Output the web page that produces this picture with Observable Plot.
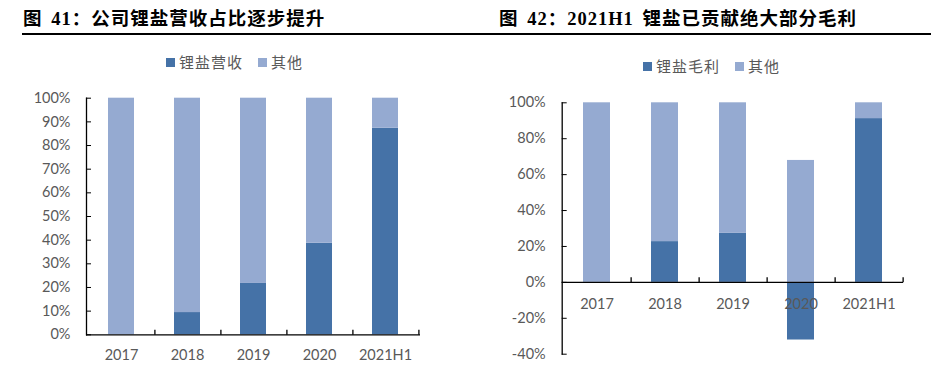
<!DOCTYPE html>
<html><head><meta charset="utf-8">
<script src="https://cdn.jsdelivr.net/npm/d3@7"></script>
<script src="https://cdn.jsdelivr.net/npm/@observablehq/plot@0.6"></script>
<style>
body{margin:0;background:#fff;}
#root{position:relative;width:931px;height:375px;overflow:hidden;background:#fff;font-family:"Noto Sans CJK SC",sans-serif;}
.title{position:absolute;top:6px;font-family:"Liberation Serif","Noto Sans CJK SC",serif;font-weight:bold;font-size:18.5px;letter-spacing:1px;word-spacing:3px;color:#000;white-space:nowrap;line-height:26px;}
.rule{position:absolute;top:33px;left:22px;width:909px;height:2px;background:#000;}
.legend{position:absolute;font-size:15px;letter-spacing:1px;color:#595959;white-space:nowrap;display:flex;align-items:center;line-height:18px;}
.legend .item{display:flex;align-items:center;margin-right:15px;}
.sw{display:inline-block;width:9px;height:9px;margin-right:4px;}
.chart{position:absolute;}
</style></head>
<body><div id="root"></div>
<script>
const categories = ["2017", "2018", "2019", "2020", "2021H1"];
const leftTitle = "图 41：公司锂盐营收占比逐步提升";
const rightTitle = "图 42：2021H1 锂盐已贡献绝大部分毛利";
const leftSeries = ["锂盐营收", "其他"];
const leftLithium = [0, 0.094, 0.217, 0.387, 0.873];
const leftOther = [1, 0.906, 0.783, 0.613, 0.127];
const rightSeries = ["锂盐毛利", "其他"];
const rightLithium = [0, 0.227, 0.273, -0.321, 0.912];
const rightOther = [1, 0.773, 0.727, 0.679, 0.088];
const leftTicks = [0, 0.1, 0.2, 0.3, 0.4, 0.5, 0.6, 0.7, 0.8, 0.9, 1];
const rightTicks = [-0.4, -0.2, 0, 0.2, 0.4, 0.6, 0.8, 1];
const colors = ["#4572A7", "#95AAD1"];

const root = document.getElementById("root");
function el(tag, cls, style, text) {
  const e = document.createElement(tag);
  if (cls) e.className = cls;
  Object.assign(e.style, style || {});
  if (text != null) e.textContent = text;
  return e;
}
root.appendChild(el("div", "title", {left: "23px"}, leftTitle));
root.appendChild(el("div", "title", {left: "499px"}, rightTitle));
root.appendChild(el("div", "rule"));

function legend(series, left, top) {
  const lg = el("div", "legend", {left: left + "px", top: top + "px"});
  series.forEach((s, i) => {
    const it = el("span", "item");
    it.appendChild(el("span", "sw", {background: colors[i]}));
    it.appendChild(el("span", null, {}, s));
    lg.appendChild(it);
  });
  root.appendChild(lg);
}
legend(leftSeries, 166, 53);
legend(rightSeries, 643, 57);

const fmt = d => `${Math.round(d * 100)}%`;

function chart({series, a, b, ticks, domain, width, height, ml, mr, mt, mb, labelPad, yPad}) {
  const rows = [];
  categories.forEach((c, i) => rows.push({cat: c, series: series[0], value: a[i]}));
  categories.forEach((c, i) => rows.push({cat: c, series: series[1], value: b[i]}));
  const plotW = width - ml - mr, plotH = height - mt - mb;
  const step = plotW / categories.length;
  const tickLen = 5 * (domain[1] - domain[0]) / plotH;
  return Plot.plot({
    width, height, marginLeft: ml, marginRight: mr, marginTop: mt, marginBottom: mb,
    style: {fontFamily: "Lato, sans-serif", fontSize: "14px", color: "#595959", background: "transparent"},
    x: {domain: categories, paddingInner: 0.6, paddingOuter: 0.3, axis: null},
    y: {domain, axis: null},
    color: {domain: series, range: colors},
    marks: [
      Plot.barY(rows, {x: "cat", y: "value", fill: "series"}),
      Plot.ruleY([0], {stroke: "#000", strokeWidth: 1.3}),
      Plot.frame({anchor: "left", stroke: "#000", strokeWidth: 1.3}),
      Plot.axisY(ticks, {tickSize: 5, dx: 5, stroke: "#000", fill: "none", label: null}),
      Plot.link(categories, {x1: d => d, x2: d => d, y1: () => 0, y2: () => tickLen, dx: step / 2, stroke: "#000", strokeWidth: 1.3}),
      Plot.text(ticks, {y: d => d, frameAnchor: "left", dx: -yPad, textAnchor: "end", text: fmt, fill: "#595959", fontSize: 14.5}),
      Plot.text(categories, {x: d => d, y: () => 0, dy: labelPad, lineAnchor: "top", text: d => d, fill: "#595959", fontSize: 14.5})
    ]
  });
}

const left = chart({series: leftSeries, a: leftLithium, b: leftOther, ticks: leftTicks, domain: [0, 1],
  width: 440, height: 290, ml: 86, mr: 20, mt: 17.7, mb: 35.7, labelPad: 15, yPad: 16});
left.classList.add("chart");
Object.assign(left.style, {left: "0px", top: "80px"});
root.appendChild(left);

const right = chart({series: rightSeries, a: rightLithium, b: rightOther, ticks: rightTicks, domain: [-0.4, 1],
  width: 461, height: 290, ml: 91.7, mr: 28, mt: 17.3, mb: 21.3, labelPad: 16, yPad: 16.5});
right.classList.add("chart");
Object.assign(right.style, {left: "470px", top: "85px"});
root.appendChild(right);
</script>
</body></html>
